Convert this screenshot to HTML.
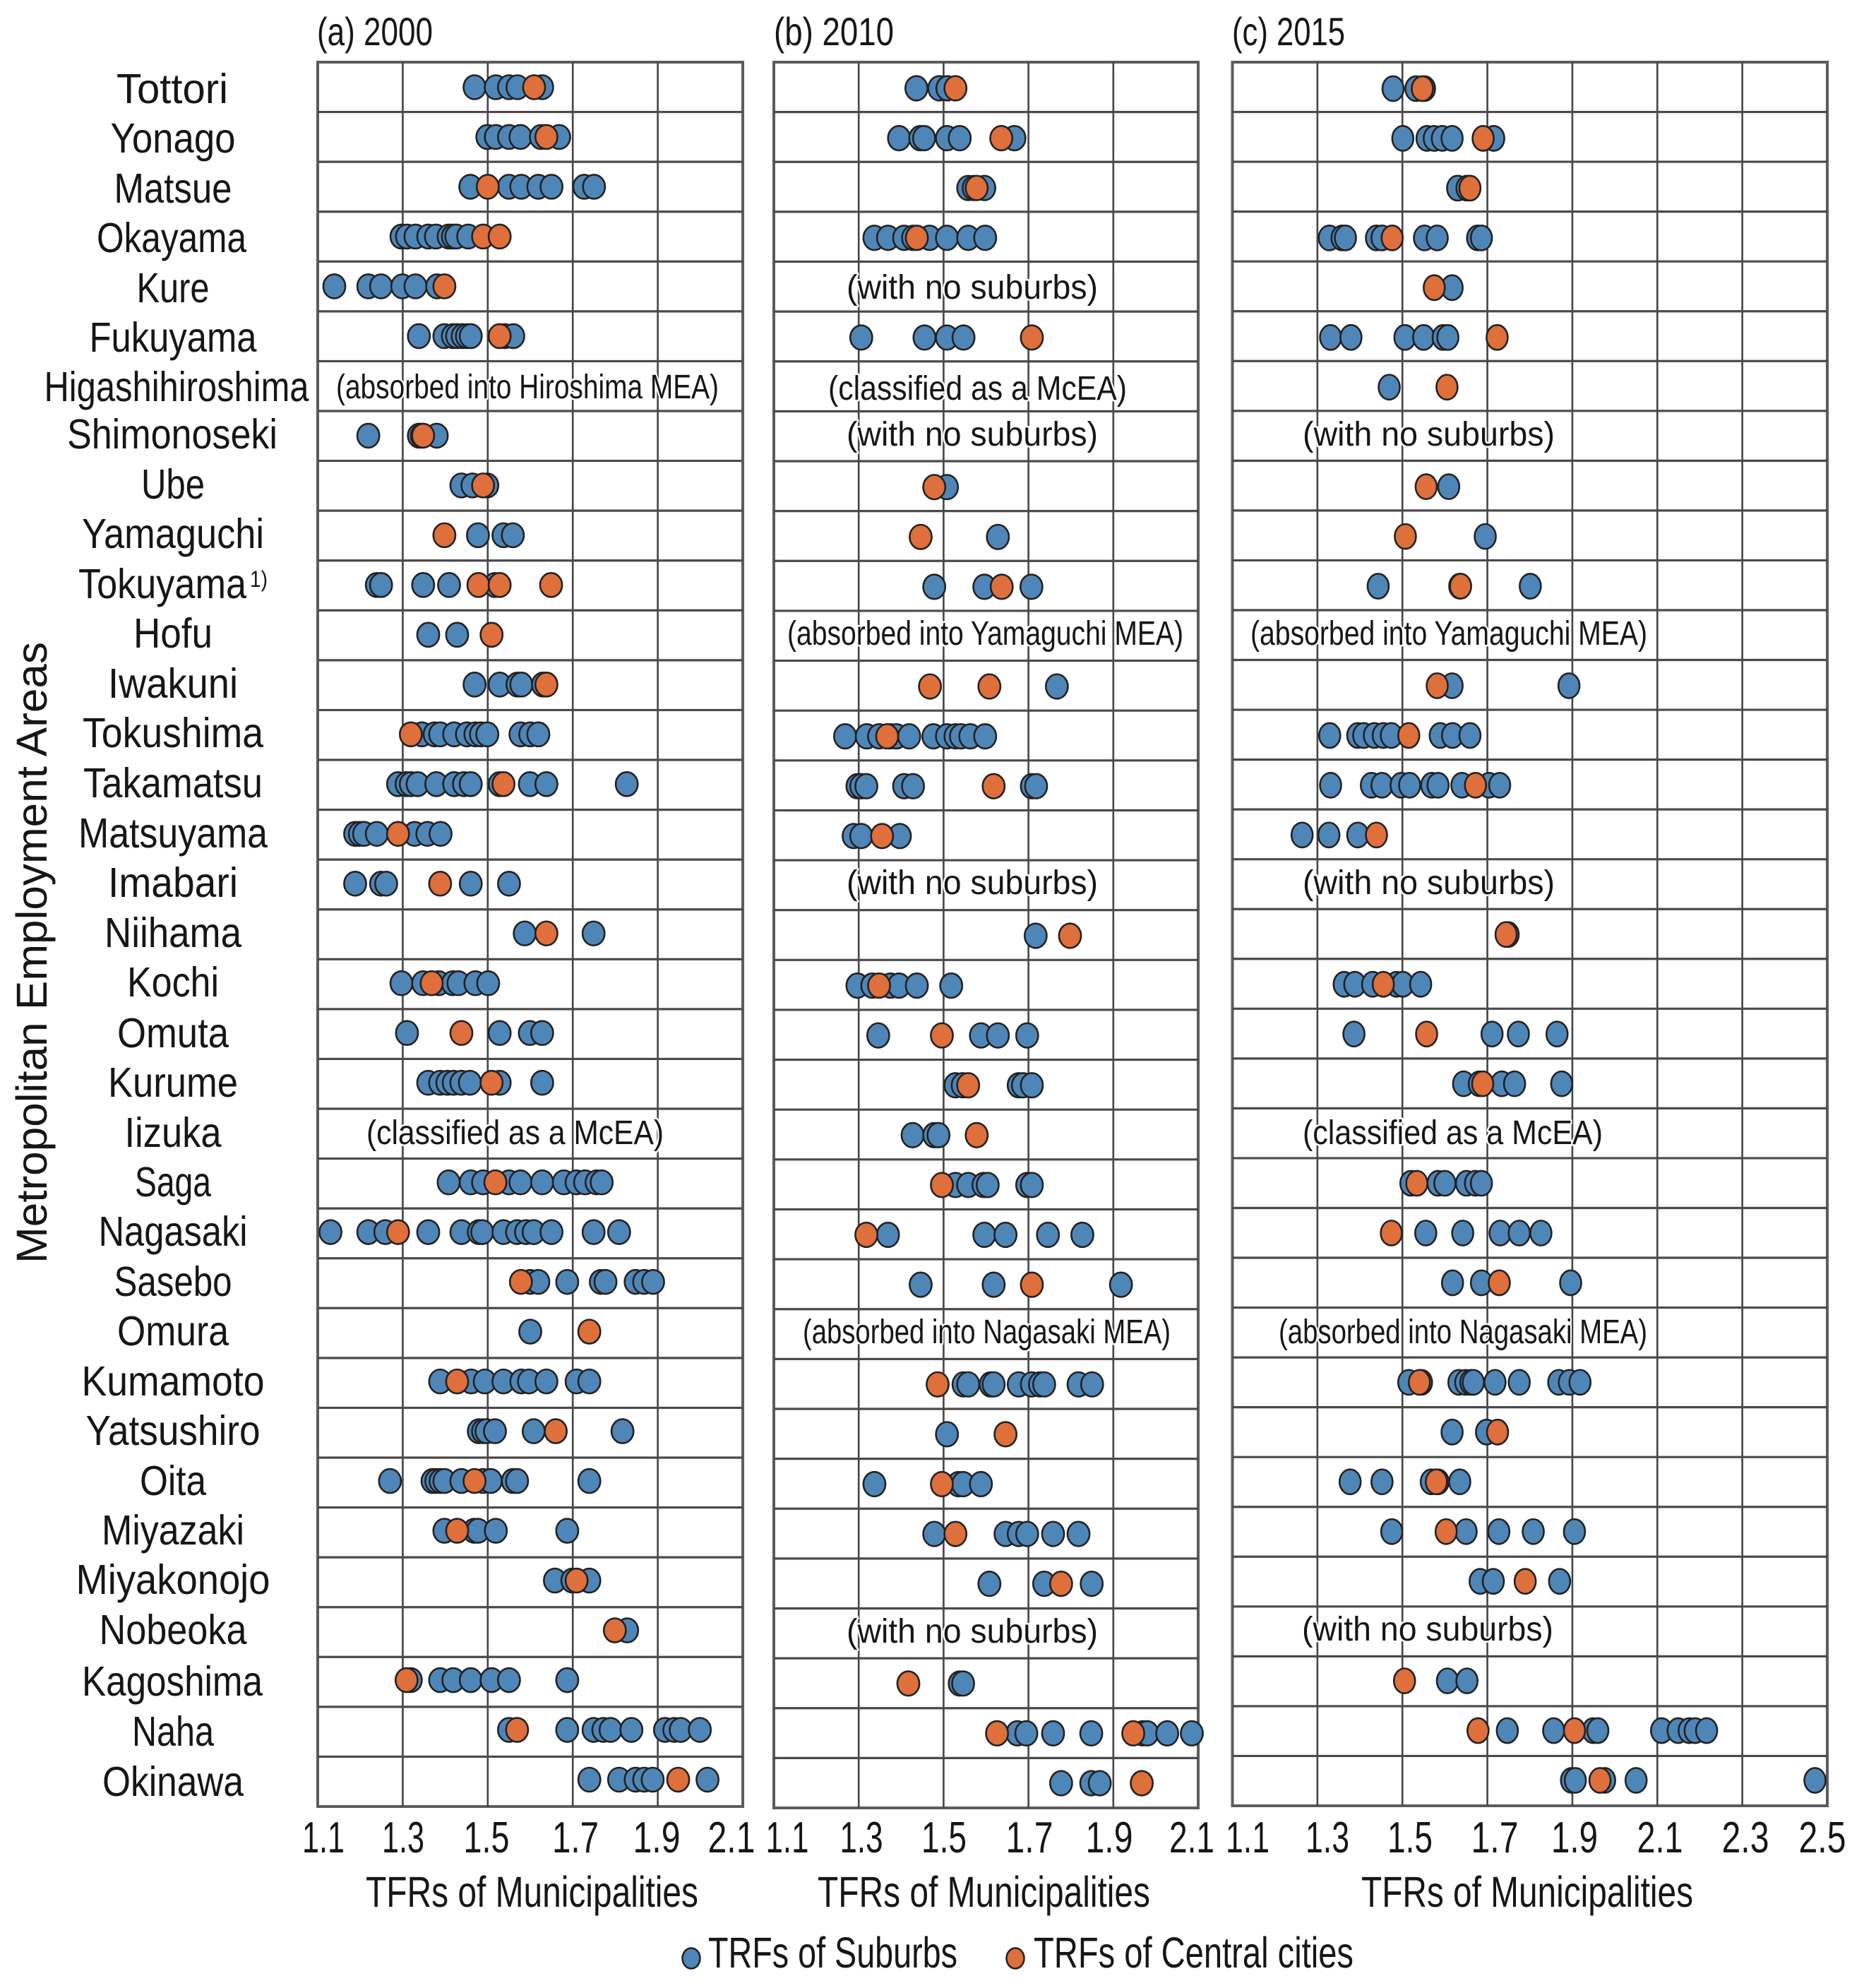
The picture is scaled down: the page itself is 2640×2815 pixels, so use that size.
<!DOCTYPE html>
<html lang="en">
<head>
<meta charset="utf-8">
<title>TFRs of Municipalities by Metropolitan Employment Area</title>
<style>
html,body{margin:0;padding:0;background:#fff;}
svg{display:block;}
text{font-family:"Liberation Sans",sans-serif;fill:#161616;}
.row{font-size:59px;text-anchor:middle;}
.tick{font-size:62px;text-anchor:middle;}
.axis{font-size:61px;}
.title{font-size:56px;}
.note{font-size:48px;paint-order:stroke;stroke:#fff;stroke-width:5px;stroke-linejoin:round;}
.legend{font-size:61px;}
</style>
</head>
<body>
<svg id="chart" xmlns="http://www.w3.org/2000/svg" width="2640" height="2815" viewBox="0 0 2640 2815">
<rect x="0" y="0" width="2640" height="2815" fill="#fff"/>

<text class="title" x="449" y="64" textLength="164" lengthAdjust="spacingAndGlyphs">(a) 2000</text>
<text class="title" x="1096" y="64" textLength="170" lengthAdjust="spacingAndGlyphs">(b) 2010</text>
<text class="title" x="1745" y="64" textLength="160" lengthAdjust="spacingAndGlyphs">(c) 2015</text>

<g id="panels"></g>

<g transform="translate(0,1)">
<text class="row" x="244" y="145" textLength="158" lengthAdjust="spacingAndGlyphs">Tottori</text>
<text class="row" x="245" y="215" textLength="177" lengthAdjust="spacingAndGlyphs">Yonago</text>
<text class="row" x="245" y="286" textLength="167" lengthAdjust="spacingAndGlyphs">Matsue</text>
<text class="row" x="243" y="356" textLength="212" lengthAdjust="spacingAndGlyphs">Okayama</text>
<text class="row" x="245" y="427" textLength="103" lengthAdjust="spacingAndGlyphs">Kure</text>
<text class="row" x="245" y="497" textLength="237" lengthAdjust="spacingAndGlyphs">Fukuyama</text>
<text class="row" x="250" y="567" textLength="375" lengthAdjust="spacingAndGlyphs">Higashihiroshima</text>
<text class="row" x="244" y="634" textLength="298" lengthAdjust="spacingAndGlyphs">Shimonoseki</text>
<text class="row" x="245" y="705" textLength="90" lengthAdjust="spacingAndGlyphs">Ube</text>
<text class="row" x="245" y="775" textLength="258" lengthAdjust="spacingAndGlyphs">Yamaguchi</text>
<text class="row" x="230" y="846" textLength="238" lengthAdjust="spacingAndGlyphs">Tokuyama</text>
<text x="354" y="830" font-size="32" textLength="25" lengthAdjust="spacingAndGlyphs">1)</text>
<text class="row" x="245" y="916" textLength="112" lengthAdjust="spacingAndGlyphs">Hofu</text>
<text class="row" x="245" y="987" textLength="184" lengthAdjust="spacingAndGlyphs">Iwakuni</text>
<text class="row" x="245" y="1057" textLength="256" lengthAdjust="spacingAndGlyphs">Tokushima</text>
<text class="row" x="245" y="1128" textLength="254" lengthAdjust="spacingAndGlyphs">Takamatsu</text>
<text class="row" x="245" y="1199" textLength="268" lengthAdjust="spacingAndGlyphs">Matsuyama</text>
<text class="row" x="245" y="1269" textLength="184" lengthAdjust="spacingAndGlyphs">Imabari</text>
<text class="row" x="245" y="1340" textLength="194" lengthAdjust="spacingAndGlyphs">Niihama</text>
<text class="row" x="245" y="1410" textLength="130" lengthAdjust="spacingAndGlyphs">Kochi</text>
<text class="row" x="245" y="1482" textLength="158" lengthAdjust="spacingAndGlyphs">Omuta</text>
<text class="row" x="245" y="1552" textLength="184" lengthAdjust="spacingAndGlyphs">Kurume</text>
<text class="row" x="245" y="1623" textLength="137" lengthAdjust="spacingAndGlyphs">Iizuka</text>
<text class="row" x="245" y="1693" textLength="108" lengthAdjust="spacingAndGlyphs">Saga</text>
<text class="row" x="245" y="1763" textLength="211" lengthAdjust="spacingAndGlyphs">Nagasaki</text>
<text class="row" x="245" y="1834" textLength="167" lengthAdjust="spacingAndGlyphs">Sasebo</text>
<text class="row" x="245" y="1904" textLength="158" lengthAdjust="spacingAndGlyphs">Omura</text>
<text class="row" x="245" y="1975" textLength="259" lengthAdjust="spacingAndGlyphs">Kumamoto</text>
<text class="row" x="245" y="2045" textLength="247" lengthAdjust="spacingAndGlyphs">Yatsushiro</text>
<text class="row" x="245" y="2116" textLength="94" lengthAdjust="spacingAndGlyphs">Oita</text>
<text class="row" x="245" y="2186" textLength="202" lengthAdjust="spacingAndGlyphs">Miyazaki</text>
<text class="row" x="245" y="2256" textLength="275" lengthAdjust="spacingAndGlyphs">Miyakonojo</text>
<text class="row" x="245" y="2327" textLength="209" lengthAdjust="spacingAndGlyphs">Nobeoka</text>
<text class="row" x="244" y="2400" textLength="256" lengthAdjust="spacingAndGlyphs">Kagoshima</text>
<text class="row" x="245" y="2471" textLength="116" lengthAdjust="spacingAndGlyphs">Naha</text>
<text class="row" x="245" y="2542" textLength="200" lengthAdjust="spacingAndGlyphs">Okinawa</text>
</g>

<g>
<text class="note" x="476" y="564" textLength="542" lengthAdjust="spacingAndGlyphs">(absorbed into Hiroshima MEA)</text>
<text class="note" x="519" y="1620" textLength="421" lengthAdjust="spacingAndGlyphs">(classified as a McEA)</text>
<text class="note" x="1199" y="423" textLength="356" lengthAdjust="spacingAndGlyphs">(with no suburbs)</text>
<text class="note" x="1173" y="566" textLength="423" lengthAdjust="spacingAndGlyphs">(classified as a McEA)</text>
<text class="note" x="1199" y="631" textLength="356" lengthAdjust="spacingAndGlyphs">(with no suburbs)</text>
<text class="note" x="1115" y="913" textLength="561" lengthAdjust="spacingAndGlyphs">(absorbed into Yamaguchi MEA)</text>
<text class="note" x="1199" y="1266" textLength="356" lengthAdjust="spacingAndGlyphs">(with no suburbs)</text>
<text class="note" x="1137" y="1902" textLength="521" lengthAdjust="spacingAndGlyphs">(absorbed into Nagasaki MEA)</text>
<text class="note" x="1199" y="2326" textLength="356" lengthAdjust="spacingAndGlyphs">(with no suburbs)</text>
<text class="note" x="1845" y="631" textLength="357" lengthAdjust="spacingAndGlyphs">(with no suburbs)</text>
<text class="note" x="1771" y="913" textLength="562" lengthAdjust="spacingAndGlyphs">(absorbed into Yamaguchi MEA)</text>
<text class="note" x="1845" y="1266" textLength="357" lengthAdjust="spacingAndGlyphs">(with no suburbs)</text>
<text class="note" x="1845" y="1620" textLength="425" lengthAdjust="spacingAndGlyphs">(classified as a McEA)</text>
<text class="note" x="1811" y="1902" textLength="522" lengthAdjust="spacingAndGlyphs">(absorbed into Nagasaki MEA)</text>
<text class="note" x="1844" y="2323" textLength="356" lengthAdjust="spacingAndGlyphs">(with no suburbs)</text>
</g>

<g>
<text class="tick" x="458" y="2623" textLength="60" lengthAdjust="spacingAndGlyphs">1.1</text>
<text class="tick" x="571" y="2623" textLength="60" lengthAdjust="spacingAndGlyphs">1.3</text>
<text class="tick" x="689" y="2623" textLength="65" lengthAdjust="spacingAndGlyphs">1.5</text>
<text class="tick" x="815" y="2623" textLength="66" lengthAdjust="spacingAndGlyphs">1.7</text>
<text class="tick" x="930" y="2623" textLength="67" lengthAdjust="spacingAndGlyphs">1.9</text>
<text class="tick" x="1036" y="2623" textLength="67" lengthAdjust="spacingAndGlyphs">2.1</text>
</g>
<g>
<text class="tick" x="1115" y="2623" textLength="61" lengthAdjust="spacingAndGlyphs">1.1</text>
<text class="tick" x="1220" y="2623" textLength="61" lengthAdjust="spacingAndGlyphs">1.3</text>
<text class="tick" x="1337" y="2623" textLength="64" lengthAdjust="spacingAndGlyphs">1.5</text>
<text class="tick" x="1458" y="2623" textLength="67" lengthAdjust="spacingAndGlyphs">1.7</text>
<text class="tick" x="1571" y="2623" textLength="67" lengthAdjust="spacingAndGlyphs">1.9</text>
<text class="tick" x="1688" y="2623" textLength="64" lengthAdjust="spacingAndGlyphs">2.1</text>
</g>
<g>
<text class="tick" x="1767" y="2623" textLength="62" lengthAdjust="spacingAndGlyphs">1.1</text>
<text class="tick" x="1880" y="2623" textLength="62" lengthAdjust="spacingAndGlyphs">1.3</text>
<text class="tick" x="1997" y="2623" textLength="64" lengthAdjust="spacingAndGlyphs">1.5</text>
<text class="tick" x="2117" y="2623" textLength="67" lengthAdjust="spacingAndGlyphs">1.7</text>
<text class="tick" x="2230" y="2623" textLength="66" lengthAdjust="spacingAndGlyphs">1.9</text>
<text class="tick" x="2351" y="2623" textLength="65" lengthAdjust="spacingAndGlyphs">2.1</text>
<text class="tick" x="2472" y="2623" textLength="67" lengthAdjust="spacingAndGlyphs">2.3</text>
<text class="tick" x="2581" y="2623" textLength="67" lengthAdjust="spacingAndGlyphs">2.5</text>
</g>

<text class="axis" x="518" y="2700" textLength="471" lengthAdjust="spacingAndGlyphs">TFRs of Municipalities</text>
<text class="axis" x="1158" y="2700" textLength="471" lengthAdjust="spacingAndGlyphs">TFRs of Municipalities</text>
<text class="axis" x="1928" y="2700" textLength="470" lengthAdjust="spacingAndGlyphs">TFRs of Municipalities</text>

<text class="axis" transform="translate(66,1789) rotate(-90)" x="0" y="0" textLength="880" lengthAdjust="spacingAndGlyphs">Metropolitan Employment Areas</text>

<g>
<ellipse cx="979" cy="2773" rx="12.5" ry="14.5" fill="#4f86b8" stroke="#222" stroke-width="2.5"/>
<text class="legend" x="1003" y="2786" textLength="353" lengthAdjust="spacingAndGlyphs">TRFs of Suburbs</text>
<ellipse cx="1438" cy="2773" rx="12.5" ry="14.5" fill="#df6f3b" stroke="#222" stroke-width="2.5"/>
<text class="legend" x="1464" y="2786" textLength="453" lengthAdjust="spacingAndGlyphs">TRFs of Central cities</text>
</g>
</svg>

<script>
const categories = ["Tottori","Yonago","Matsue","Okayama","Kure","Fukuyama","Higashihiroshima","Shimonoseki","Ube","Yamaguchi","Tokuyama","Hofu","Iwakuni","Tokushima","Takamatsu","Matsuyama","Imabari","Niihama","Kochi","Omuta","Kurume","Iizuka","Saga","Nagasaki","Sasebo","Omura","Kumamoto","Yatsushiro","Oita","Miyazaki","Miyakonojo","Nobeoka","Kagoshima","Naha","Okinawa"];

const ticks2000 = [1.1,1.3,1.5,1.7,1.9,2.1];
const ticks2010 = [1.1,1.3,1.5,1.7,1.9,2.1];
const ticks2015 = [1.1,1.3,1.5,1.7,1.9,2.1,2.3,2.5];

const suburbs2000 = [
[1.469,1.519,1.55,1.57,1.628],
[1.499,1.519,1.55,1.577,1.625,1.668],
[1.459,1.55,1.579,1.619,1.65,1.727,1.75],
[1.297,1.31,1.33,1.36,1.378,1.408,1.418,1.426,1.454],
[1.139,1.219,1.249,1.299,1.33,1.381],
[1.338,1.398,1.418,1.428,1.441,1.451,1.46,1.54,1.56],
[],
[1.219,1.338,1.345,1.38],
[1.438,1.464,1.499],
[1.477,1.537,1.559],
[1.239,1.249,1.348,1.409,1.517],
[1.36,1.428],
[1.469,1.528,1.57,1.579,1.63],
[1.345,1.375,1.388,1.421,1.451,1.471,1.484,1.499,1.577,1.6,1.619],
[1.289,1.309,1.319,1.335,1.379,1.421,1.444,1.46,1.528,1.599,1.638,1.827],
[1.188,1.199,1.209,1.239,1.328,1.358,1.389],
[1.188,1.249,1.261,1.46,1.55],
[1.587,1.749],
[1.297,1.348,1.385,1.418,1.431,1.471,1.501],
[1.31,1.528,1.599,1.628],
[1.36,1.388,1.405,1.42,1.438,1.458,1.528,1.628],
[],
[1.408,1.46,1.489,1.55,1.577,1.628,1.679,1.709,1.729,1.756,1.768],
[1.13,1.219,1.259,1.36,1.438,1.479,1.487,1.537,1.569,1.59,1.608,1.65,1.749,1.809],
[1.6,1.619,1.687,1.766,1.777,1.848,1.868,1.889],
[1.6],
[1.388,1.461,1.493,1.537,1.579,1.597,1.638,1.709,1.739],
[1.479,1.489,1.497,1.517,1.608,1.817],
[1.27,1.37,1.379,1.389,1.398,1.438,1.489,1.507,1.559,1.569,1.739],
[1.398,1.468,1.477,1.519,1.687],
[1.658,1.699,1.739],
[1.828],
[1.319,1.388,1.419,1.46,1.509,1.55,1.687],
[1.55,1.687,1.749,1.772,1.789,1.838,1.917,1.939,1.954,1.999],
[1.739,1.809,1.848,1.868,1.888,2.017]
];
const central2000 = [
[1.609],[1.638],[1.5],[1.489,1.528],[1.398],[1.528],[],[1.348],[1.489],[1.398],[1.478,1.528,1.649],[1.509],
[1.638],[1.319],[1.537],[1.289],[1.388],[1.638],[1.368],[1.438],[1.509],[],[1.518],[1.289],[1.578],[1.739],
[1.428],[1.66],[1.469],[1.428],[1.709],[1.799],[1.309],[1.569],[1.948]
];

const suburbs2010 = [
[1.436,1.49,1.509],
[1.395,1.445,1.454,1.508,1.538,1.667],
[1.558,1.571,1.596],
[1.337,1.369,1.407,1.428,1.467,1.508,1.558,1.598],
[],
[1.306,1.455,1.508,1.547],
[],
[],
[1.508],
[1.628],
[1.478,1.596,1.707],
[],
[1.767],
[1.268,1.319,1.348,1.375,1.389,1.419,1.476,1.508,1.528,1.541,1.563,1.598],
[1.297,1.306,1.318,1.407,1.428,1.708,1.718],
[1.288,1.306,1.397],
[],
[1.717],
[1.297,1.332,1.375,1.395,1.437,1.518],
[1.346,1.588,1.628,1.697],
[1.528,1.545,1.677,1.687,1.708],
[1.427,1.478,1.488],
[1.528,1.558,1.594,1.604,1.697,1.708],
[1.369,1.596,1.646,1.746,1.827],
[1.446,1.618,1.918],
[],
[1.547,1.558,1.611,1.618,1.677,1.708,1.727,1.737,1.818,1.85],
[1.508],
[1.337,1.535,1.546,1.588],
[1.478,1.646,1.677,1.697,1.758,1.818],
[1.608,1.737,1.849],
[],
[1.538,1.546],
[1.674,1.695,1.758,1.848,1.969,1.98,2.027,2.085],
[1.777,1.848,1.868]
];
const central2010 = [
[1.528],[1.636],[1.578],[1.437],[],[1.708],[],[],[1.478],[1.446],[1.637],[],
[1.468,1.608],[1.367],[1.618],[1.355],[],[1.798],[1.348],[1.496],[1.558],[1.578],[1.496],[1.318],[1.708],[],
[1.486],[1.646],[1.496],[1.528],[1.777],[],[1.417],[1.626,1.947],[1.967]
];

const suburbs2015 = [
[1.478,1.532,1.552],
[1.501,1.558,1.575,1.594,1.617,1.715],
[1.63,1.652],
[1.328,1.358,1.366,1.439,1.452,1.552,1.582,1.677,1.686],
[1.617],
[1.331,1.379,1.506,1.55,1.596,1.607],
[1.469],
[],
[1.609],
[1.695],
[1.443,1.635,1.801],
[],
[1.617,1.892],
[1.329,1.395,1.409,1.434,1.455,1.474,1.589,1.618,1.659],
[1.331,1.427,1.452,1.497,1.517,1.569,1.584,1.64,1.704,1.729],
[1.264,1.327,1.395],
[],
[1.749],
[1.363,1.388,1.43,1.486,1.501,1.543],
[1.386,1.711,1.773,1.864],
[1.644,1.681,1.734,1.764,1.875],
[],
[1.52,1.584,1.6,1.651,1.672,1.686],
[1.555,1.642,1.73,1.775,1.826],
[1.618,1.686,1.896],
[],
[1.515,1.545,1.633,1.649,1.661,1.667,1.718,1.775,1.868,1.893,1.918],
[1.617,1.698],
[1.377,1.452,1.568,1.584,1.635],
[1.475,1.65,1.727,1.808,1.905],
[1.683,1.714,1.87],
[],
[1.606,1.652],
[1.747,1.856,1.949,1.96,2.11,2.149,2.175,2.189,2.216],
[1.898,1.907,1.976,2.05,2.471]
];
const central2015 = [
[1.547],[1.69],[1.659],[1.476],[1.575],[1.723],[1.605],[],[1.556],[1.507],[1.637],[],
[1.582],[1.515],[1.672],[1.439],[],[1.744],[1.455],[1.557],[1.689],[],[1.534],[1.474],[1.728],[],
[1.54],[1.724],[1.58],[1.603],[1.789],[],[1.505],[1.678,1.905],[1.965]
];

const panelSpecs = [
  {key:"2000", left:450, right:1052, top:88, bottom:2558, min:1.1, max:2.1, ticks:ticks2000, suburbs:suburbs2000, central:central2000, firstY:123.5, lastY:2520, rx:15.6, ry:17},
  {key:"2010", left:1096, right:1697, top:88, bottom:2560, min:1.1, max:2.1, ticks:ticks2010, suburbs:suburbs2010, central:central2010, firstY:125, lastY:2525, rx:15.6, ry:17.3},
  {key:"2015", left:1745.5, right:2588, top:88, bottom:2557, min:1.1, max:2.5, ticks:ticks2015, suburbs:suburbs2015, central:central2015, firstY:125.5, lastY:2521, rx:15, ry:17.6}
];

const SVGNS = "http://www.w3.org/2000/svg";
const root = document.getElementById("panels");

function drawPanel(p){
  const g = document.createElementNS(SVGNS,"g");
  
  
  root.appendChild(g);

  const xScale = v => p.left + (v - p.min) / (p.max - p.min) * (p.right - p.left);
  const n = categories.length;
  const lineY = i => p.top + (p.bottom - p.top) * i / n;
  const rowY = i => p.firstY + (p.lastY - p.firstY) * i / (n - 1);

  const bg = document.createElementNS(SVGNS,"rect");
  bg.setAttribute("x", p.left);
  bg.setAttribute("y", p.top);
  bg.setAttribute("width", p.right - p.left);
  bg.setAttribute("height", p.bottom - p.top);
  bg.setAttribute("fill", "#fff");
  bg.setAttribute("stroke", "#5c5c5c");
  bg.setAttribute("stroke-width", "4");
  
  
  g.appendChild(bg);

  p.ticks.forEach(t => {
    if (t === p.min || t === p.max) return;
    const l = document.createElementNS(SVGNS,"line");
    l.setAttribute("x1", xScale(t));
    l.setAttribute("x2", xScale(t));
    l.setAttribute("y1", p.top);
    l.setAttribute("y2", p.bottom);
    l.setAttribute("stroke", "#444");
    l.setAttribute("stroke-width", "2.6");
    
    
    g.appendChild(l);
  });

  for (let i = 1; i < n; i++) {
    const l = document.createElementNS(SVGNS,"line");
    l.setAttribute("x1", p.left);
    l.setAttribute("x2", p.right);
    l.setAttribute("y1", lineY(i));
    l.setAttribute("y2", lineY(i));
    l.setAttribute("stroke", "#4a4a4a");
    l.setAttribute("stroke-width", "3.2");
    
    
    g.appendChild(l);
  }

  const addDot = (value, i, fill, kind) => {
    const e = document.createElementNS(SVGNS,"ellipse");
    e.setAttribute("cx", xScale(value));
    e.setAttribute("cy", rowY(i));
    e.setAttribute("rx", p.rx);
    e.setAttribute("ry", p.ry);
    e.setAttribute("fill", fill);
    e.setAttribute("stroke", "#222");
    e.setAttribute("stroke-width", "2.6");
    
    
    g.appendChild(e);
  };

  categories.forEach((c, i) => {
    p.suburbs[i].forEach(v => addDot(v, i, "#4f86b8", "suburb"));
    p.central[i].forEach(v => addDot(v, i, "#df6f3b", "central-city"));
  });
}

panelSpecs.forEach(drawPanel);
</script>
</body>
</html>
